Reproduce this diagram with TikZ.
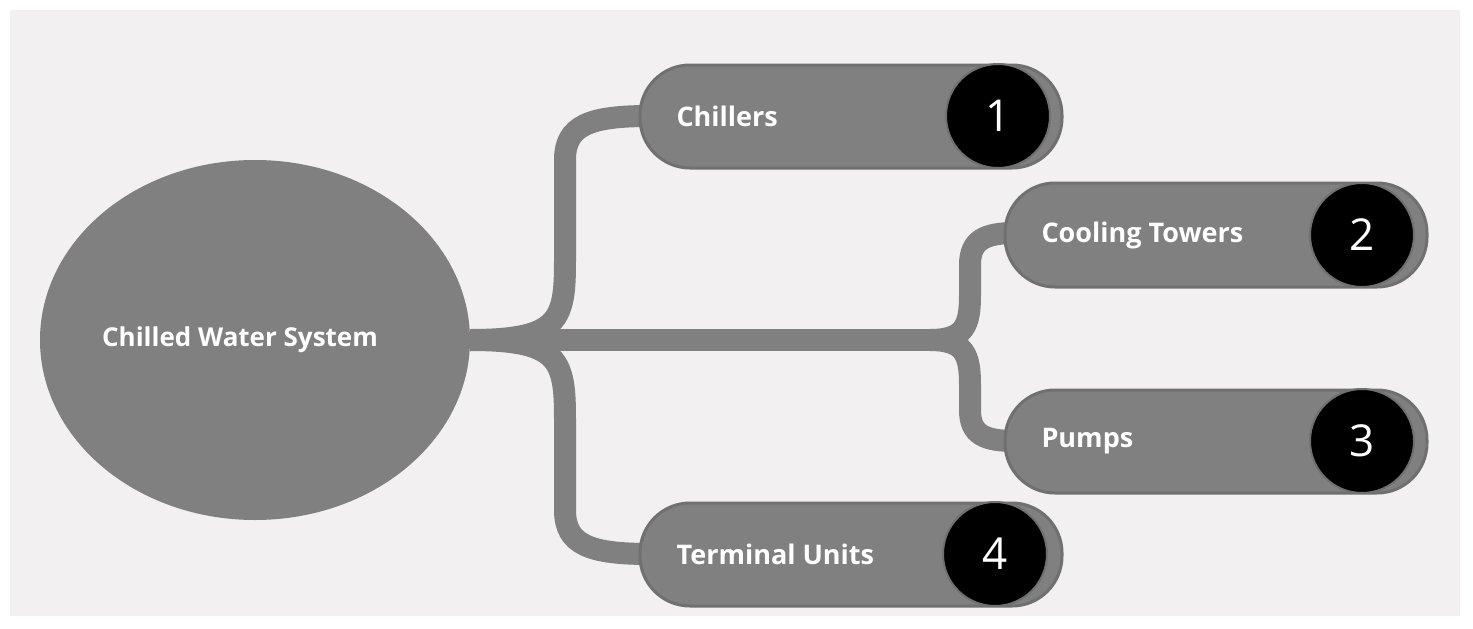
\documentclass[tikz,border=0pt]{standalone}
\usepackage{fontspec}
\setmainfont{Open Sans}
\usetikzlibrary{shapes.geometric}
\begin{document}
\begin{tikzpicture}[x=1pt,y=-1pt,
  conn/.style={draw=midg,line width=22pt},
  pill/.style={fill=midg,draw=darkg,line width=3pt,rounded corners=50pt},
  lbl/.style={text=white,font=\fontsize{27}{30}\selectfont\bfseries,anchor=west},
  num/.style={circle,fill=black,draw=darkg,line width=2pt,minimum size=104pt,text=white,font=\fontsize{44}{48}\selectfont}]
\definecolor{midg}{RGB}{128,128,128}
\definecolor{darkg}{RGB}{112,112,112}
\definecolor{bg}{RGB}{242,240,241}
\useasboundingbox (0,0) rectangle (1473,629);
\fill[white] (0,0) rectangle (1473,629);
\fill[bg] (10,10) rectangle (1460,616);
% connectors
\coordinate (o) at (470,340);
\draw[conn] (o) -- (945,340);
\draw[conn] (o) .. controls (560,340) and (565,320) .. (565,260) -- (565,160) .. controls (565,125) and (590,116) .. (650,116);
\draw[conn] (o) .. controls (560,340) and (565,360) .. (565,420) -- (565,510) .. controls (565,545) and (590,554) .. (650,554);
\draw[conn] (930,340) .. controls (965,340) and (970,325) .. (970,295) -- (970,265) .. controls (970,240) and (985,233) .. (1015,233);
\draw[conn] (930,340) .. controls (965,340) and (970,355) .. (970,385) -- (970,410) .. controls (970,435) and (985,441) .. (1015,441);
% ellipse
\node[ellipse,fill=midg,minimum width=430pt,minimum height=360pt,inner sep=0pt] (sys) at (255,340) {};
\node[text=white,font=\fontsize{26}{30}\selectfont\bfseries] (syst) at (240,340) {Chilled Water System};
% pills
\path[pill] (640,65) rectangle (1062,168);
\path[pill] (1005,183) rectangle (1427,287);
\path[pill] (1005,390) rectangle (1427,493);
\path[pill] (640,503) rectangle (1062,606);
\node[lbl] (t1) at (673,116) {Chillers};
\node[lbl] (t2) at (1038,235) {Cooling Towers};
\node[lbl] (t3) at (1038,441) {Pumps};
\node[lbl] (t4) at (673,554) {Terminal Units};
\node[num] (n1) at (998,116) {1};
\node[num] (n2) at (1362,235) {2};
\node[num] (n3) at (1362,441) {3};
\node[num] (n4) at (995,554) {4};
\end{tikzpicture}
\end{document}
